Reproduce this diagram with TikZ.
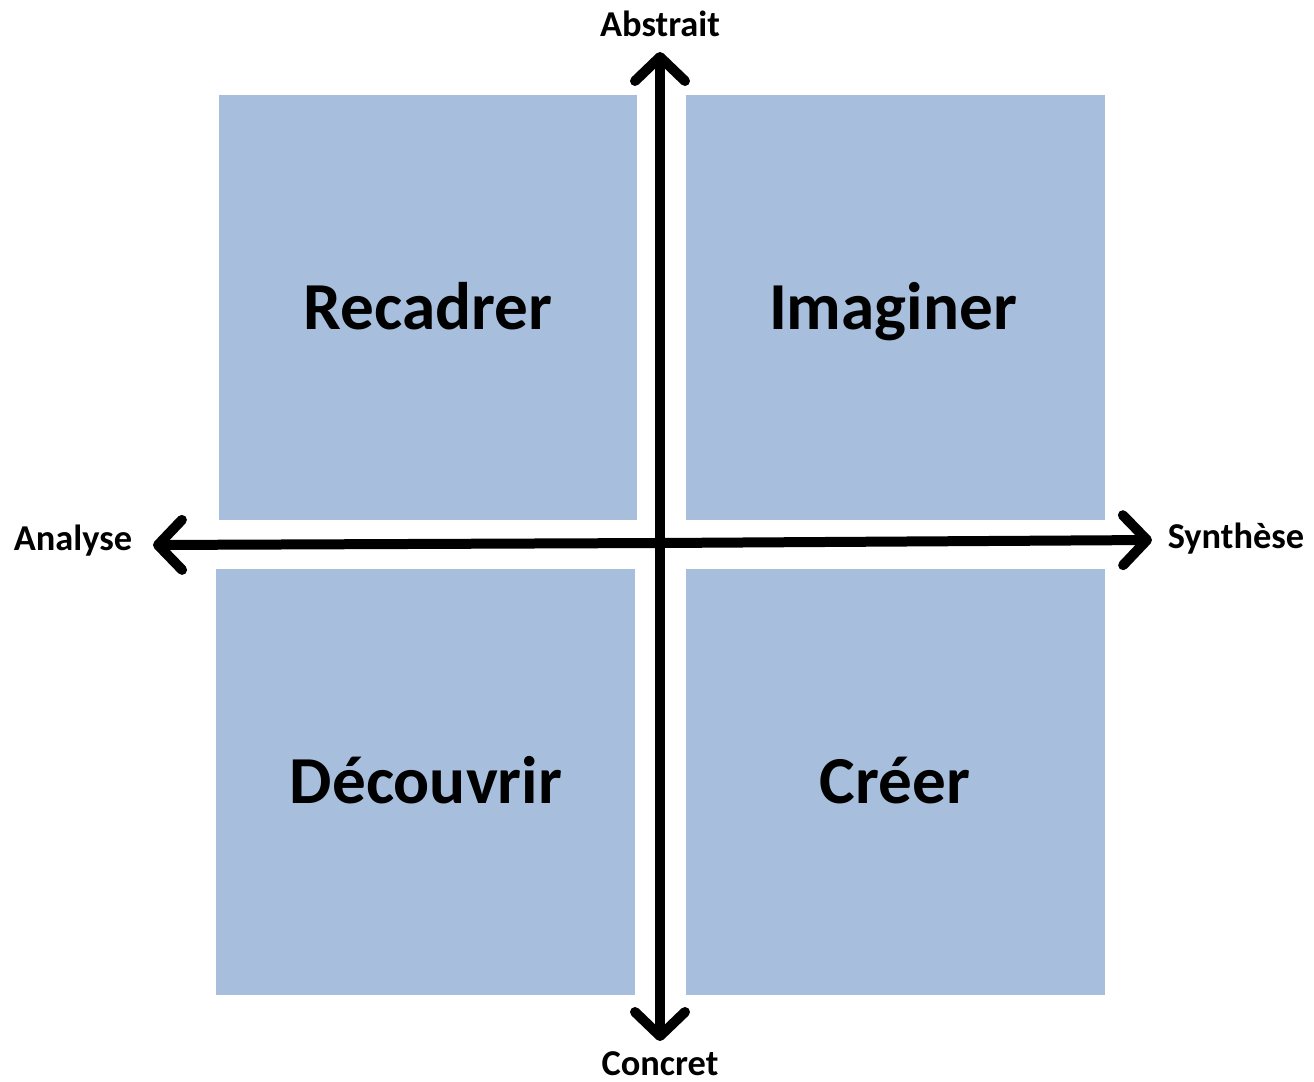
\documentclass[tikz,border=0pt]{standalone}
\usepackage{fontspec}
\setmainfont{Carlito}
\usetikzlibrary{arrows.meta}
\definecolor{quadfill}{RGB}{167,191,221}
\begin{document}
\begin{tikzpicture}[x=0.5pt,y=-0.5pt,
  quad/.style={fill=quadfill, draw=none},
  quadlabel/.style={anchor=base, font=\fontsize{33.6}{36}\selectfont\bfseries, text=black},
  axislabel/.style={anchor=base, font=\fontsize{18.2}{20}\selectfont\bfseries, text=black},
  axis/.style={line width=5pt, line cap=round,
    -{Straight Barb[length=12pt,width=25pt,line width=5pt,round]}}]
  \useasboundingbox (0,0) rectangle (1314,1082);
  % quadrants
  \fill[quad] (219,95) rectangle (637,520);
  \fill[quad] (686,95) rectangle (1105,520);
  \fill[quad] (216,569) rectangle (635,995);
  \fill[quad] (686,569) rectangle (1105,995);
  \node[quadlabel] (rec) at (428,329) {Recadrer};
  \node[quadlabel] (ima) at (893,329) {Imaginer};
  \node[quadlabel] (dec) at (426,803) {Découvrir};
  \node[quadlabel] (cre) at (895,803) {Créer};
  % axis ends
  \coordinate (ctr) at (660,543);
  \coordinate (top) at (660,52);
  \coordinate (bot) at (660,1041);
  \coordinate (lft) at (153,545);
  \coordinate (rgt) at (1152,540);
  \draw[axis] (ctr) -- (top);
  \draw[axis] (ctr) -- (bot);
  \draw[axis] (ctr) -- (lft);
  \draw[axis] (ctr) -- (rgt);
  \node[axislabel] (abs) at (660,36) {Abstrait};
  \node[axislabel] (con) at (660,1075) {Concret};
  \node[axislabel] (ana) at (73,550) {Analyse};
  \node[axislabel] (syn) at (1236,548) {Synthèse};
\end{tikzpicture}
\end{document}
